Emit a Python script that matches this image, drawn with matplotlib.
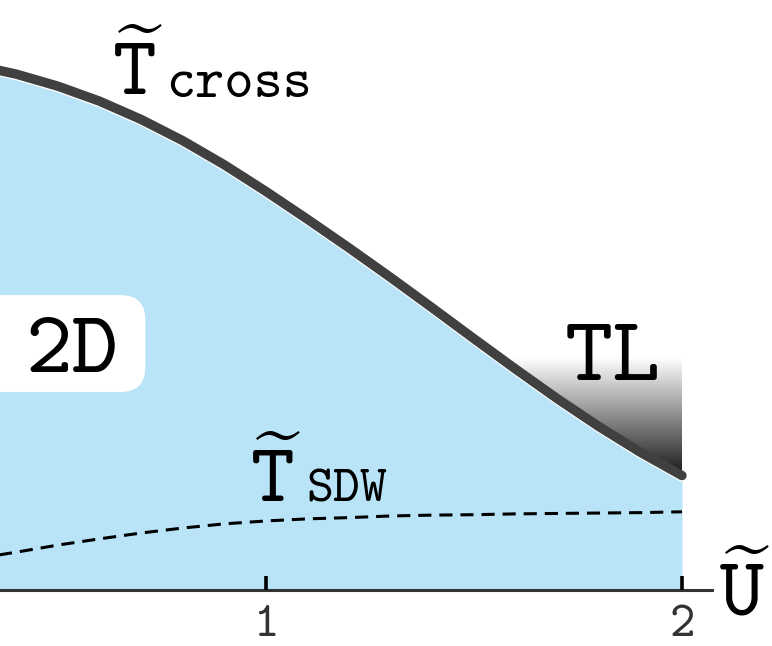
import matplotlib
matplotlib.use("Agg")
import matplotlib.pyplot as plt
from matplotlib.patches import FancyBboxPatch
import matplotlib.transforms as mtransforms
import numpy as np

plt.rcParams['mathtext.fontset'] = 'cm'

# values (U tilde, T tilde)
u_vals = [0.3, 0.4, 0.5, 0.6, 0.7, 0.8, 0.9, 1.0, 1.1, 1.2,
          1.3, 1.4, 1.5, 1.6, 1.7, 1.8, 1.9, 2.0]
t_cross = [1.262, 1.240, 1.211, 1.175, 1.131, 1.080, 1.022, 0.958, 0.891, 0.822,
           0.751, 0.678, 0.604, 0.531, 0.460, 0.393, 0.331, 0.275]
t_sdw = [0.075, 0.091, 0.108, 0.123, 0.137, 0.149, 0.159, 0.166, 0.171, 0.174,
         0.178, 0.180, 0.181, 0.183, 0.184, 0.185, 0.186, 0.188]
x_ticks = [1, 2]
x_ticklabels = ['1', '2']

W, H = 772, 646
FONT = 'cmtt10'
BLUE = '#b9e4f8'
DARK = '#404040'

fig = plt.figure(figsize=(W / 100, H / 100), dpi=100)
ax = fig.add_axes([0, 0, 1, 1])
# 416 px per unit on both axes, axis line at y px 590, U=1 at x px 266
ax.set_xlim(1 - 266 / 416, 1 + (W - 266) / 416)
ax.set_ylim(-(H - 590) / 416, 590 / 416)


def px(x, y):
    return x / W, 1 - y / H


# TL gradient, the blue fill hides the part under the curve
grad = np.linspace(0.08, 1.0, 256).reshape(-1, 1)
ax.imshow(grad, cmap='gray', vmin=0, vmax=1, origin='lower',
          extent=[1.5, 2.0, 0.27, 0.56], aspect='auto', zorder=1,
          interpolation='bilinear')

ax.fill_between(u_vals, 0, t_cross, color=BLUE, lw=0, zorder=2)

# white rim under the thick line
shift = mtransforms.offset_copy(ax.transData, fig=fig, x=0, y=-1.2, units='dots')
ax.plot(u_vals, t_cross, color='white', lw=7.0, solid_capstyle='round',
        transform=shift, zorder=3)
ax.plot(u_vals, t_cross, color=DARK, lw=6.8, solid_capstyle='round',
        solid_joinstyle='round', zorder=4)

ax.plot(u_vals, t_sdw, color='black', lw=2.2, dashes=(4.3, 2.6), zorder=4)

# axis
for s in ['top', 'right', 'left']:
    ax.spines[s].set_visible(False)
ax.spines['bottom'].set_position(('data', 0))
ax.spines['bottom'].set_bounds(0.3, 2.072)
ax.spines['bottom'].set_linewidth(2.2)
ax.spines['bottom'].set_color('#333333')
ax.set_axisbelow(False)
ax.xaxis.set_zorder(5)
ax.set_yticks([])
ax.set_xticks(x_ticks)
ax.set_xticklabels(x_ticklabels, fontfamily=FONT, fontsize=35, color='#333333')
ax.tick_params(axis='x', direction='in', length=10, width=2.6, color='black', pad=11)
ax.set_facecolor('none')

# 2D box
box = FancyBboxPatch((0.30, 0.476), 0.41, 0.233,
                     boxstyle='round,pad=0,rounding_size=0.06',
                     fc='white', ec='none', zorder=6)
ax.add_patch(box)
ax.text(*px(72, 372), '2D', transform=fig.transFigure, fontfamily=FONT,
        fontsize=64, ha='center', va='baseline', zorder=7)

# labels
ax.text(*px(138, 95), r'$\widetilde{\mathtt{T}}$', transform=fig.transFigure,
        fontsize=60, ha='center', va='baseline')
ax.text(*px(166, 97), 'cross', transform=fig.transFigure, fontfamily=FONT,
        fontsize=40, ha='left', va='baseline')

ax.text(*px(276, 502), r'$\widetilde{\mathtt{T}}$', transform=fig.transFigure,
        fontsize=60, ha='center', va='baseline', zorder=7)
ax.text(*px(306, 502), 'SDW', transform=fig.transFigure, fontfamily=FONT,
        fontsize=37, ha='left', va='baseline', zorder=7)

ax.text(*px(613, 380), 'TL', transform=fig.transFigure, fontfamily=FONT,
        fontsize=66, ha='center', va='baseline', zorder=7)

ax.text(*px(745, 615), r'$\widetilde{\mathtt{U}}$', transform=fig.transFigure,
        fontsize=60, ha='center', va='baseline')

fig.savefig('out.png', dpi=100)
